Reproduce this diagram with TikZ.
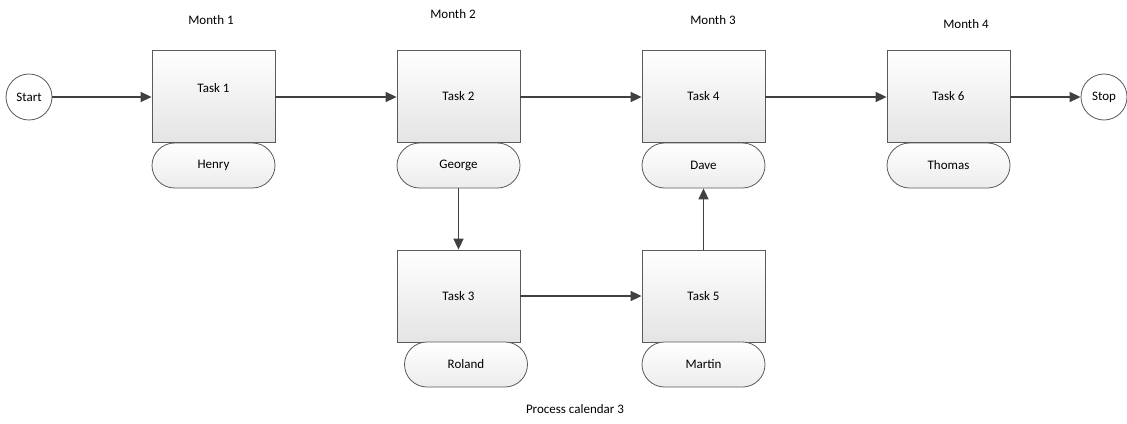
\documentclass[tikz,border=0pt]{standalone}
\usepackage{fontspec}
\setmainfont{Carlito}
\usetikzlibrary{arrows.meta,positioning}
\definecolor{edge}{HTML}{5A5A5A}
\definecolor{wire}{HTML}{404040}
\definecolor{shadebot}{HTML}{E4E4E4}
\tikzset{
  every node/.style={font=\fontsize{13}{15}\selectfont, text=black},
  taskbox/.style={draw=edge, line width=0.8pt, top color=white, bottom color=shadebot,
    minimum width=123pt, minimum height=92pt, inner sep=0pt},
  person/.style={draw=edge, line width=0.8pt, top color=white, bottom color=shadebot!70,
    rounded corners=22.5pt, minimum width=123pt, minimum height=45pt, inner sep=0pt},
  terminal/.style={draw=edge, line width=0.8pt, circle, fill=white,
    minimum size=46pt, inner sep=0pt},
  flow/.style={draw=wire, line width=1.6pt, -{Triangle[length=11pt,width=10pt]}},
  month/.style={inner sep=0pt}
}
\begin{document}
\begin{tikzpicture}[x=1pt,y=-1pt]
\useasboundingbox (0,0) rectangle (1127,423);

% start and stop terminals
\node[terminal] (start) at (29,97) {Start};
\node[terminal] (stop) at (1104,97) {Stop};

% month headings
\node[month] (m1) at (211,20) {Month 1};
\node[month] (m2) at (453,14) {Month 2};
\node[month] (m3) at (713,20) {Month 3};
\node[month] (m4) at (966,24) {Month 4};

% task boxes
\node[taskbox] (t1) at (213.5,96) {};
\node[month] (t1text) at (213.5,88) {Task 1};
\node[taskbox] (t2) at (458.5,96) {Task 2};
\node[taskbox] (t4) at (703.5,96) {Task 4};
\node[taskbox] (t6) at (948.5,96) {Task 6};
\node[taskbox] (t3) at (458.5,296) {Task 3};
\node[taskbox] (t5) at (703.5,296) {Task 5};

% people in charge
\node[person] (henry) at (213.5,165.5) {Henry};
\node[person] (george) at (458.5,165.5) {George};
\node[person] (dave) at (703.5,165.5) {Dave};
\node[person] (thomas) at (948.5,165.5) {Thomas};
\node[person] (roland) at (466,364.5) {Roland};
\node[person] (martin) at (703.5,364.5) {Martin};

% caption
\node[month] (caption) at (575,409) {Process calendar 3};

% flow of work
\draw[flow] (start.east) -- (start.east -| t1.west);
\draw[flow] (t1.east |- start.east) -- (start.east -| t2.west);
\draw[flow] (t2.east |- start.east) -- (start.east -| t4.west);
\draw[flow] (t4.east |- start.east) -- (start.east -| t6.west);
\draw[flow] (t6.east |- start.east) -- (stop.west);
\draw[flow] (george) -- (t3);
\draw[flow] (t3) -- (t5);
\draw[flow] (t5) -- (dave);
\end{tikzpicture}
\end{document}
